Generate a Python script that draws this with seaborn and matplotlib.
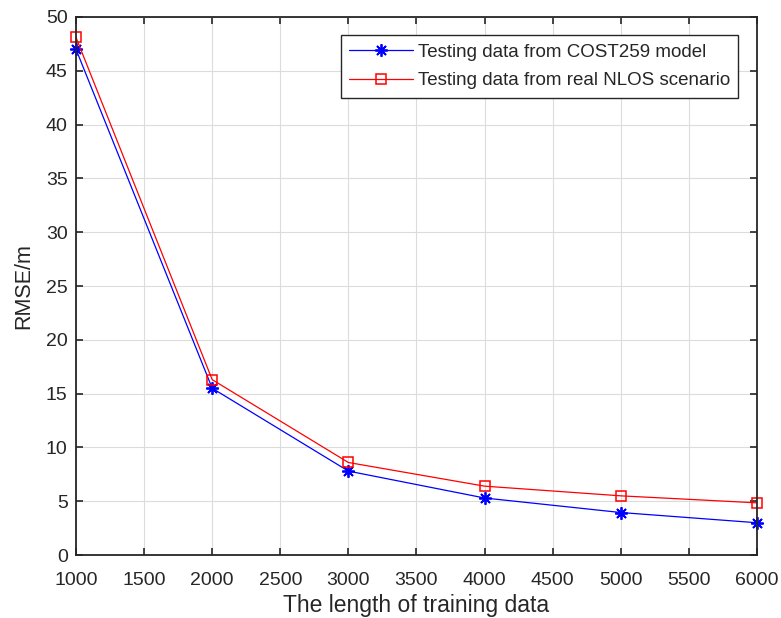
import matplotlib
matplotlib.use("Agg")
import matplotlib.pyplot as plt
import seaborn as sns
import pandas as pd

# Training-set lengths and the resulting RMSE for each testing set
train_length = [1000, 2000, 3000, 4000, 5000, 6000]
rmse_cost259 = [47.0, 15.5, 7.8, 5.3, 3.95, 3.0]
rmse_real_nlos = [48.1, 16.3, 8.6, 6.4, 5.5, 4.85]

label_cost259 = "Testing data from COST259 model"
label_real = "Testing data from real NLOS scenario"

x_ticks = list(range(1000, 6001, 500))
y_ticks = list(range(0, 51, 5))

sns.set_theme(style="whitegrid")
plt.rcParams["font.family"] = ["Liberation Sans", "DejaVu Sans"]

fig = plt.figure(figsize=(7.81, 6.18), dpi=100)
ax = fig.add_axes([0.0973, 0.1019, 0.8719, 0.8706])

df = pd.DataFrame({
    "length": train_length * 2,
    "rmse": rmse_cost259 + rmse_real_nlos,
    "series": [label_cost259] * len(train_length) + [label_real] * len(train_length),
})

sns.lineplot(data=df[df.series == label_cost259], x="length", y="rmse",
             color="#0000ff", marker=(8, 2, 0), markersize=9,
             markeredgewidth=1.3, markeredgecolor="#0000ff",
             linewidth=0.9, label=label_cost259, ax=ax, clip_on=False)
sns.lineplot(data=df[df.series == label_real], x="length", y="rmse",
             color="#ff0000", marker="s", markersize=7.5,
             markerfacecolor="none", markeredgecolor="#ff0000",
             markeredgewidth=1.1, linewidth=0.9, label=label_real, ax=ax,
             clip_on=False)

ax.set_xlim(1000, 6000)
ax.set_ylim(0, 50)
ax.set_xticks(x_ticks)
ax.set_yticks(y_ticks)

ax.set_xticklabels([str(t) for t in x_ticks], fontsize=14, color="#262626")
ax.set_yticklabels([str(t) for t in y_ticks], fontsize=14, color="#262626")
ax.set_xlabel("The length of training data", fontsize=16.5,
              color="#262626", labelpad=4)
ax.set_ylabel("RMSE/m", fontsize=15.5, color="#262626", labelpad=8)

ax.grid(True, color="#dcdcdc", linewidth=0.8)
ax.set_facecolor("white")
for side in ["left", "right", "top", "bottom"]:
    ax.spines[side].set_visible(True)
    ax.spines[side].set_color("#262626")
    ax.spines[side].set_linewidth(1.3)

ax.tick_params(axis="both", direction="in", length=5, width=1.2,
               color="#262626", top=True, right=True, bottom=True, left=True)
ax.tick_params(axis="x", pad=12)
ax.tick_params(axis="y", pad=6)

leg = ax.legend(loc="upper right", bbox_to_anchor=(0.9725, 0.966),
                fontsize=13.5, frameon=True, fancybox=False,
                edgecolor="#262626", handlelength=3.4, borderpad=0.45,
                labelspacing=0.6, handletextpad=0.25, borderaxespad=0)
leg.get_frame().set_linewidth(1.0)
leg.get_frame().set_alpha(1)

fig.savefig("out.png", dpi=100)
